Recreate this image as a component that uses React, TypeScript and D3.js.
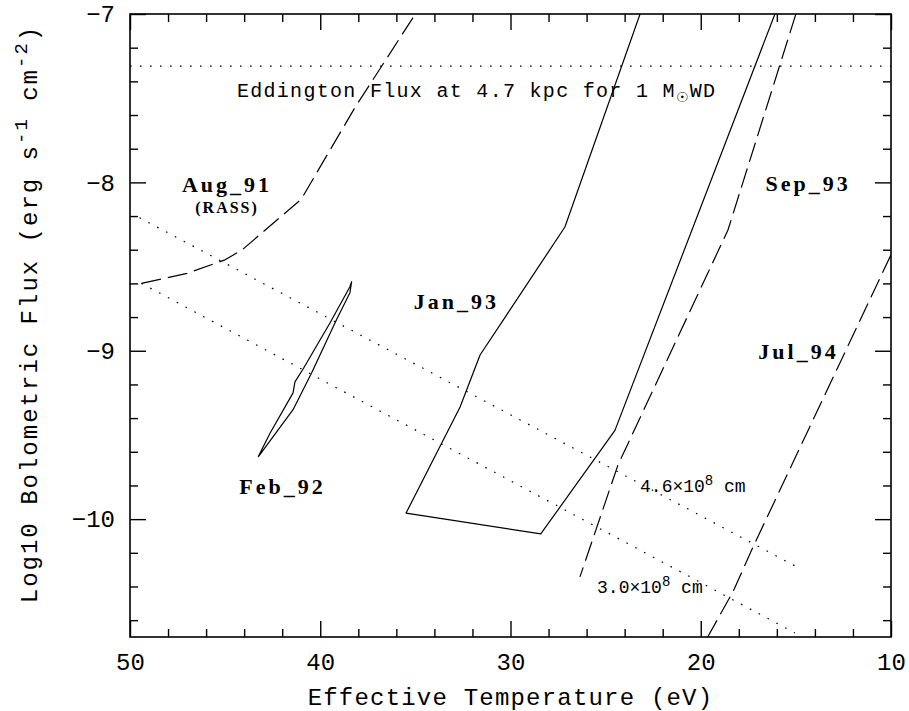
import { useEffect, useRef } from 'react';
import * as d3 from 'd3';

// [effective temperature (eV), log10 bolometric flux]
type Pt = [number, number];

const aug91: Pt[] = [
  [49.4, -8.6], [47.0, -8.54], [45.0, -8.46], [44.1, -8.4],
  [41.0, -8.1], [38.2, -7.56], [35.0, -7.0],
];
const feb92: Pt[] = [
  [43.26, -9.63], [42.64, -9.49], [41.43, -9.25], [41.33, -9.185],
  [40.91, -9.11], [39.49, -8.835], [38.44, -8.62], [38.35, -8.59],
  [38.44, -8.655], [39.14, -8.815], [40.45, -9.13], [41.43, -9.35],
  [43.26, -9.63],
];
const jan93: Pt[] = [
  [23.19, -7.0], [27.14, -8.265], [31.6, -9.025], [32.65, -9.334],
  [35.49, -9.964], [28.41, -10.088], [24.51, -9.473], [16.1, -7.0],
];
const sep93: Pt[] = [[15.0, -7.0], [18.57, -8.283], [24.35, -9.678], [26.35, -10.343]];
const jul94: Pt[] = [[10.0, -8.43], [17.25, -10.165], [18.31, -10.432], [19.72, -10.717]];
const radius46: Pt[] = [[49.5, -8.21], [14.94, -10.284]];
const radius30: Pt[] = [[49.4, -8.6], [15.05, -10.676]];
const eddingtonFlux = -7.31;

const xMajor = [50, 40, 30, 20, 10];
const xMinor = d3.range(12, 50, 2).filter(v => v % 10 !== 0);
const yMajor = [-7, -8, -9, -10];
const yMinor = d3.range(-106, -70, 2).map(v => v / 10).filter(v => !Number.isInteger(v));

const epochLabels = [
  { text: 'Aug_91', t: 44.98, f: -8.06, size: 22, spacing: 3 },
  { text: '(RASS)', t: 44.95, f: -8.18, size: 16, spacing: 2 },
  { text: 'Feb_92', t: 42.06, f: -9.85, size: 22, spacing: 3 },
  { text: 'Jan_93', t: 32.92, f: -8.752, size: 22, spacing: 3 },
  { text: 'Sep_93', t: 14.44, f: -8.051, size: 22, spacing: 3 },
  { text: 'Jul_94', t: 14.94, f: -9.049, size: 22, spacing: 3 },
];
const radiusLabels = [
  { mant: '4.6\u00d710', exp: '8', t: 23.19, f: -9.838 },
  { mant: '3.0\u00d710', exp: '8', t: 25.45, f: -10.438 },
];

const MONO = '"Liberation Mono", "DejaVu Sans Mono", monospace';
const SERIF = '"Liberation Serif", "DejaVu Serif", serif';

export default function App() {
  const svgRef = useRef<SVGSVGElement>(null);

  useEffect(() => {
    if (!svgRef.current) return;
    const svg = d3.select(svgRef.current);
    svg.selectAll('*').remove();

    const W = 909, H = 711;
    const margin = { top: 14, right: 18, bottom: 74, left: 130 };
    const x = d3.scaleLinear().domain([50, 10]).range([margin.left, W - margin.right]);
    const y = d3.scaleLinear().domain([-10.7, -7]).range([H - margin.bottom, margin.top]);

    svg.attr('width', W).attr('height', H);

    svg.append('defs').append('clipPath').attr('id', 'plot-clip')
      .append('rect')
      .attr('x', x(50)).attr('y', y(-7))
      .attr('width', x(10) - x(50)).attr('height', y(-10.7) - y(-7));

    // axes: ticks point inward on all four sides
    const axisStyle = (g: any) => {
      g.select('.domain').remove();
      g.selectAll('line').attr('stroke', '#000').attr('stroke-width', 1.4);
      g.selectAll('text').attr('font-family', MONO).attr('font-size', 24).attr('fill', '#000');
    };
    const bottom = H - margin.bottom, top = margin.top;
    const left = margin.left, right = W - margin.right;

    svg.append('g').attr('transform', `translate(0,${bottom})`)
      .call(d3.axisBottom(x).tickValues(xMajor).tickSize(-16).tickSizeOuter(0).tickPadding(16).tickFormat(d3.format('d')) as any)
      .call(axisStyle);
    svg.append('g').attr('transform', `translate(0,${bottom})`)
      .call(d3.axisBottom(x).tickValues(xMinor).tickSize(-8).tickSizeOuter(0).tickFormat(() => '') as any)
      .call(axisStyle);
    svg.append('g').attr('transform', `translate(0,${top})`)
      .call(d3.axisTop(x).tickValues(xMajor).tickSize(-16).tickSizeOuter(0).tickFormat(() => '') as any)
      .call(axisStyle);
    svg.append('g').attr('transform', `translate(0,${top})`)
      .call(d3.axisTop(x).tickValues(xMinor).tickSize(-8).tickSizeOuter(0).tickFormat(() => '') as any)
      .call(axisStyle);

    svg.append('g').attr('transform', `translate(${left},0)`)
      .call(d3.axisLeft(y).tickValues(yMajor).tickSize(-16).tickSizeOuter(0).tickPadding(15)
        .tickFormat((d: any) => `\u2212${Math.abs(d)}`) as any)
      .call(axisStyle);
    svg.append('g').attr('transform', `translate(${left},0)`)
      .call(d3.axisLeft(y).tickValues(yMinor).tickSize(-8).tickSizeOuter(0).tickFormat(() => '') as any)
      .call(axisStyle);
    svg.append('g').attr('transform', `translate(${right},0)`)
      .call(d3.axisRight(y).tickValues(yMajor).tickSize(-16).tickSizeOuter(0).tickFormat(() => '') as any)
      .call(axisStyle);
    svg.append('g').attr('transform', `translate(${right},0)`)
      .call(d3.axisRight(y).tickValues(yMinor).tickSize(-8).tickSizeOuter(0).tickFormat(() => '') as any)
      .call(axisStyle);

    svg.append('rect')
      .attr('x', left).attr('y', top)
      .attr('width', right - left).attr('height', bottom - top)
      .attr('fill', 'none').attr('stroke', '#000').attr('stroke-width', 1.6);

    const plot = svg.append('g').attr('clip-path', 'url(#plot-clip)');
    const line = d3.line<Pt>().x(d => x(d[0])).y(d => y(d[1]));

    const draw = (data: Pt[], dash: string | null) => {
      const p = plot.append('path').datum(data)
        .attr('d', line)
        .attr('fill', 'none')
        .attr('stroke', '#000')
        .attr('stroke-width', 1.2)
        .attr('stroke-linejoin', 'round');
      if (dash) p.attr('stroke-dasharray', dash);
    };

    const DASH = '20 7';
    const DOT = '1.6 8.4';
    draw(aug91, DASH);
    draw(feb92, null);
    draw(jan93, null);
    draw(sep93, DASH);
    draw(jul94, DASH);
    draw(radius46, DOT);
    draw(radius30, DOT);
    draw([[50, eddingtonFlux], [10, eddingtonFlux]], DOT);

    // Eddington label
    const edd = svg.append('text')
      .attr('x', x(44.38)).attr('y', y(-7.493))
      .attr('font-family', MONO).attr('font-size', 20)
      .attr('letter-spacing', 1.3)
      .attr('fill', '#000');
    edd.append('tspan').text('Eddington Flux at 4.7 kpc for 1 M');
    edd.append('tspan').attr('dy', 5).attr('font-size', 14).attr('font-family', '"DejaVu Sans", sans-serif').text('\u2609');
    edd.append('tspan').attr('dy', -5).text('WD');

    // epoch labels
    svg.selectAll('.epoch')
      .data(epochLabels)
      .enter().append('text')
      .attr('class', 'epoch')
      .attr('x', d => x(d.t) + d.spacing / 2)
      .attr('y', d => y(d.f))
      .attr('text-anchor', 'middle')
      .attr('font-family', SERIF)
      .attr('font-weight', 'bold')
      .attr('font-size', d => d.size)
      .attr('letter-spacing', d => d.spacing)
      .attr('fill', '#000')
      .text(d => d.text);

    // radius labels
    radiusLabels.forEach(r => {
      const t = svg.append('text')
        .attr('x', x(r.t)).attr('y', y(r.f))
        .attr('font-family', MONO).attr('font-size', 18)
        .attr('fill', '#000');
      t.append('tspan').text(r.mant);
      t.append('tspan').attr('dy', -7).attr('font-size', 14).text(r.exp);
      t.append('tspan').attr('dy', 7).text(' cm');
    });

    // axis titles
    svg.append('text')
      .attr('x', (left + right) / 2).attr('y', 705)
      .attr('text-anchor', 'middle')
      .attr('font-family', MONO).attr('font-size', 24)
      .attr('letter-spacing', 1.2)
      .attr('fill', '#000')
      .text('Effective Temperature (eV)');

    const yt = svg.append('text')
      .attr('transform', `translate(37,314) rotate(-90)`)
      .attr('text-anchor', 'middle')
      .attr('font-family', MONO).attr('font-size', 24)
      .attr('letter-spacing', 2)
      .attr('fill', '#000');
    yt.append('tspan').text('Log10 Bolometric Flux (erg s');
    yt.append('tspan').attr('dy', -10).attr('font-size', 19).text('-1');
    yt.append('tspan').attr('dy', 10).text(' cm');
    yt.append('tspan').attr('dy', -10).attr('font-size', 19).text('-2');
    yt.append('tspan').attr('dy', 10).text(')');
  }, []);

  return <svg ref={svgRef} style={{ position: 'absolute', left: 0, top: 0, background: '#fff' }}></svg>;
}
